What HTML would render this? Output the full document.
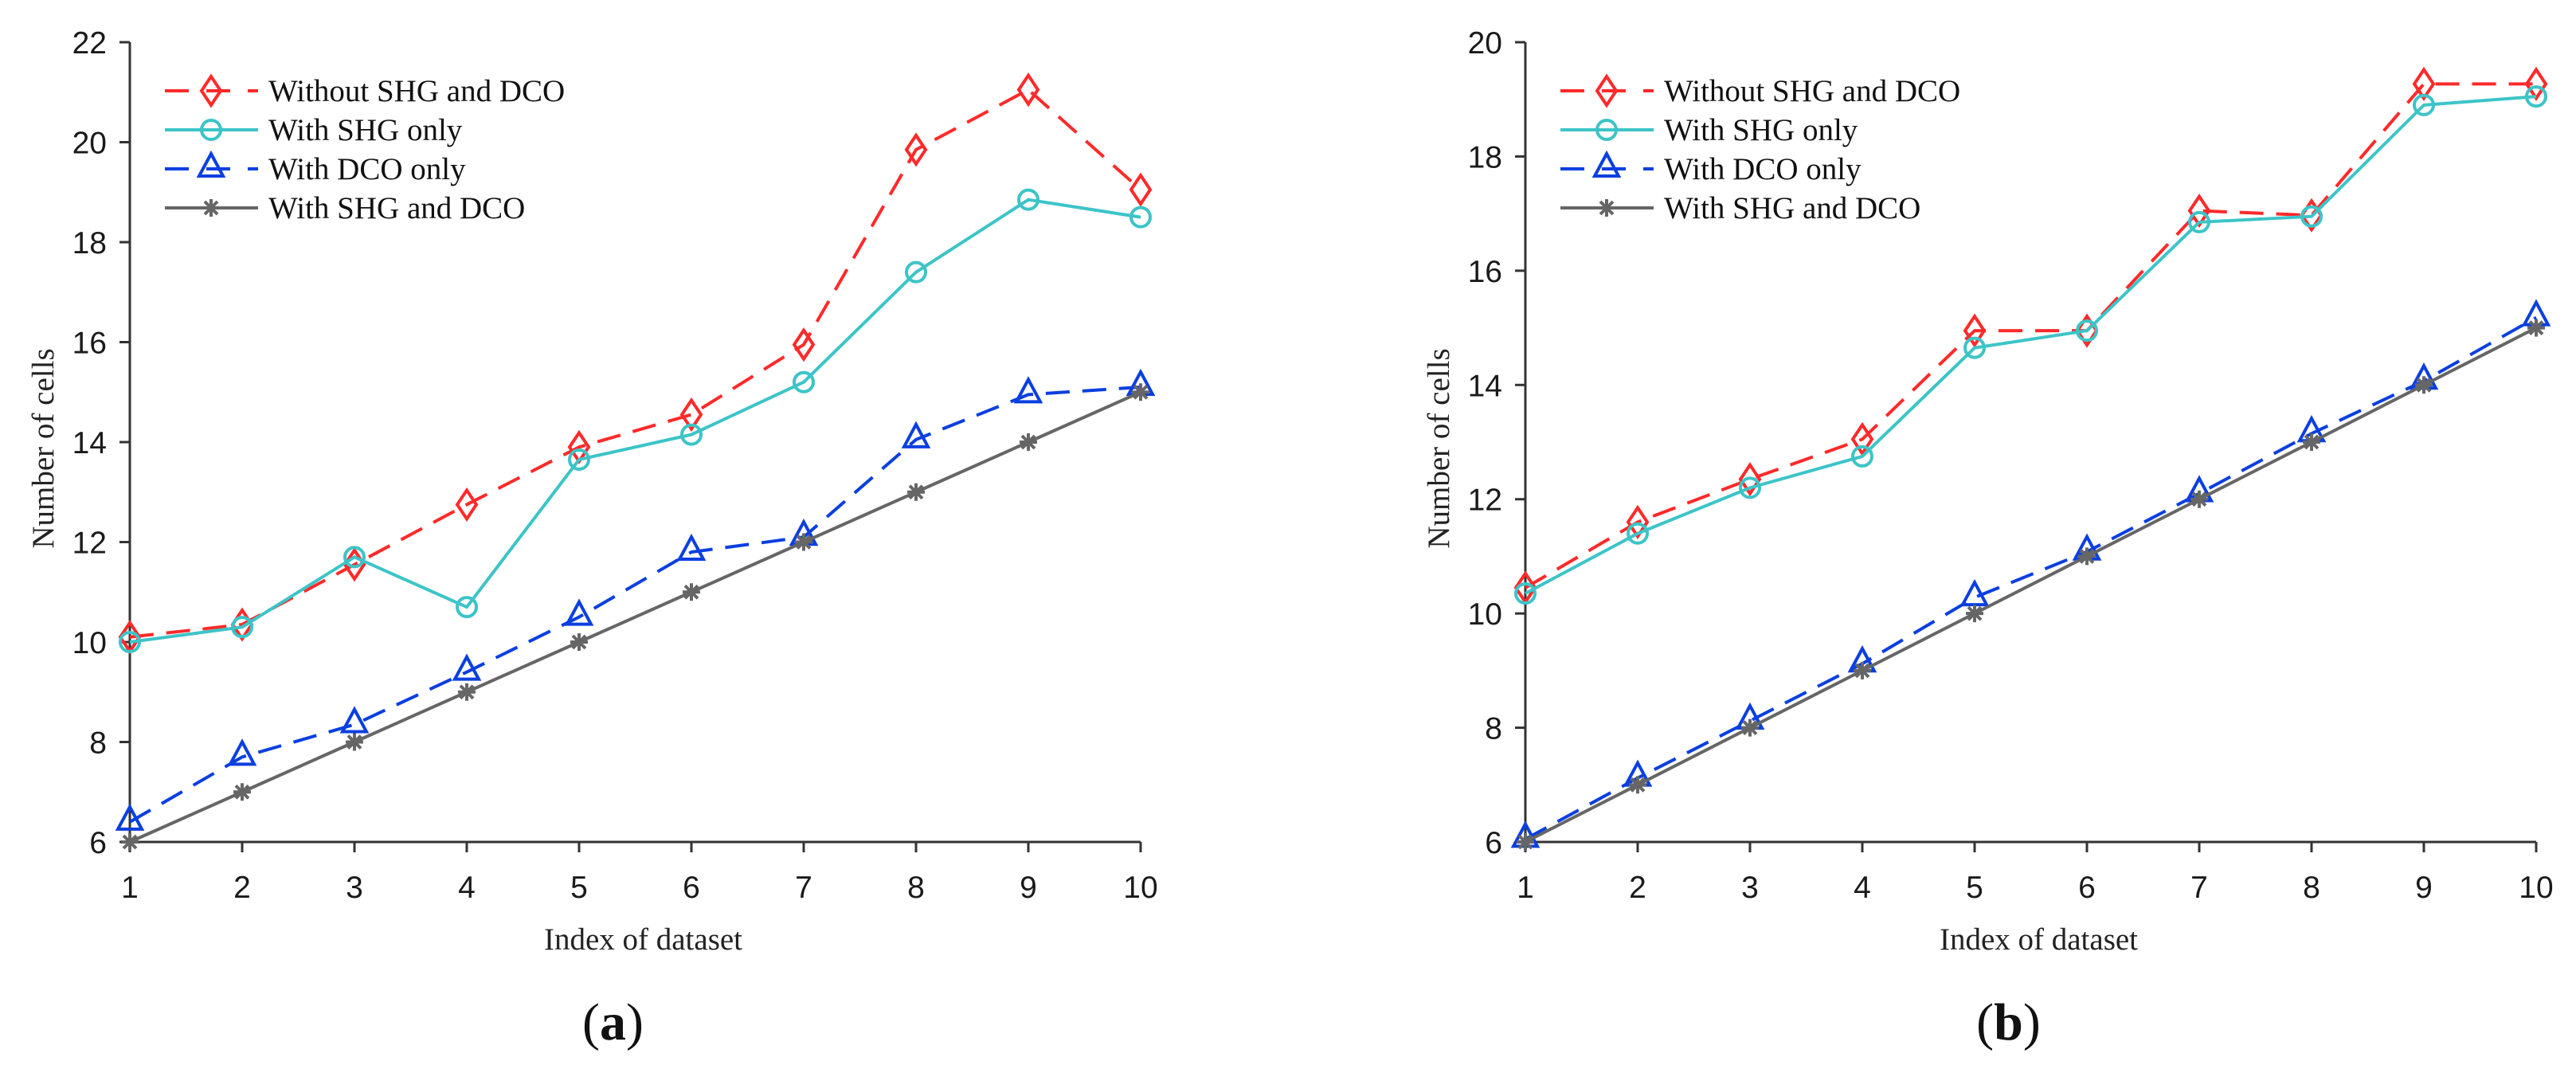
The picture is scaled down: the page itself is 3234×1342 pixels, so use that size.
<!DOCTYPE html>
<html><head><meta charset="utf-8"><style>
html,body{margin:0;padding:0;background:#fff;}
svg{display:block;}
</style></head><body>
<svg id="fig" width="3234" height="1342" viewBox="0 0 3234 1342" xmlns="http://www.w3.org/2000/svg"></svg>
<script>
const xCategories = [1,2,3,4,5,6,7,8,9,10];
const seriesNames = ["Without SHG and DCO","With SHG only","With DCO only","With SHG and DCO"];
const aWithout = [10.1,10.35,11.55,12.75,13.9,14.55,15.95,19.85,21.05,19.05];
const aShg = [10.0,10.3,11.7,10.7,13.65,14.15,15.2,17.4,18.85,18.5];
const aDco = [6.4,7.7,8.35,9.4,10.5,11.8,12.1,14.05,14.95,15.1];
const aBoth = [6,7,8,9,10,11,12,13,14,15];
const bWithout = [10.45,11.6,12.35,13.05,14.95,14.95,17.05,16.97,19.27,19.27];
const bShg = [10.35,11.4,12.2,12.75,14.65,14.95,16.85,16.95,18.9,19.05];
const bDco = [6.05,7.12,8.12,9.12,10.28,11.08,12.1,13.15,14.07,15.18];
const bBoth = [6,7,8,9,10,11,12,13,14,15];
const aYTicks = [6,8,10,12,14,16,18,20,22];
const bYTicks = [6,8,10,12,14,16,18,20];

const NS="http://www.w3.org/2000/svg";
const svg=document.getElementById('fig');
function mk(tag,attrs,parent){const e=document.createElementNS(NS,tag);for(const k in attrs)e.setAttribute(k,attrs[k]);(parent||svg).appendChild(e);return e;}
const styles=[
 {color:"#ff2a2a",dash:"30 16",marker:"diamond"},
 {color:"#3cc4c8",dash:"",marker:"circle"},
 {color:"#0a3fe0",dash:"30 16",marker:"triangle"},
 {color:"#666666",dash:"",marker:"star"}
];
function marker(g,type,x,y,color){
 let m;
 if(type==="diamond"){m=mk('polygon',{points:`${x},${y-18} ${x+12},${y} ${x},${y+18} ${x-12},${y}`,fill:"none",stroke:color,"stroke-width":4},g);}
 else if(type==="circle"){m=mk('circle',{cx:x,cy:y,r:12,fill:"none",stroke:color,"stroke-width":4},g);}
 else if(type==="triangle"){m=mk('polygon',{points:`${x},${y-19} ${x+15},${y+9} ${x-15},${y+9}`,fill:"none",stroke:color,"stroke-width":4},g);}
 else {m=mk('path',{d:`M${x-11},${y}H${x+11}M${x},${y-11}V${y+11}M${x-8},${y-8}L${x+8},${y+8}M${x-8},${y+8}L${x+8},${y-8}`,stroke:color,"stroke-width":4,fill:"none"},g);}
 
 
}
function chart(id,x0,x1,y0,y1,ymin,ymax,yTicks,series,label){
 const g=mk('g',{});
 
 
 const sx=v=>x0+(v-1)/9*(x1-x0);
 const sy=v=>y0-(v-ymin)/(ymax-ymin)*(y0-y1);
 const ax=mk('path',{d:`M${x0},${y1}V${y0}H${x1}`,stroke:"#333",fill:"none","stroke-width":3},g);
 
 
 yTicks.forEach(t=>{
  const yy=sy(t);
  mk('line',{x1:x0-13,x2:x0,y1:yy,y2:yy,stroke:"#333","stroke-width":3},g);
  const tx=mk('text',{x:x0-29,y:yy+14,"text-anchor":"end","font-family":"Liberation Sans, sans-serif","font-size":39,fill:"#1a1a1a"},g);
  tx.textContent=t;
  
  
 });
 xCategories.forEach(c=>{
  const xx=sx(c);
  mk('line',{x1:xx,x2:xx,y1:y0,y2:y0+13,stroke:"#333","stroke-width":3},g);
  const tx=mk('text',{x:xx,y:y0+70,"text-anchor":"middle","font-family":"Liberation Sans, sans-serif","font-size":39,fill:"#1a1a1a"},g);
  tx.textContent=c;
  
  
 });
 const yl=mk('text',{x:0,y:0,transform:`translate(${x0-96},${(y0+y1)/2+8}) rotate(-90)`,"text-anchor":"middle","font-family":"Liberation Serif, serif","font-size":39,fill:"#222"},g);
 yl.textContent="Number of cells";
 
 
 const xl=mk('text',{x:(x0+x1)/2+10,y:1192,"text-anchor":"middle","font-family":"Liberation Serif, serif","font-size":39,fill:"#222"},g);
 xl.textContent="Index of dataset";
 
 
 series.forEach((vals,i)=>{
  const st=styles[i];
  const pts=vals.map((v,j)=>`${sx(xCategories[j])},${sy(v)}`).join(' ');
  const pl=mk('polyline',{points:pts,fill:"none",stroke:st.color,"stroke-width":4,"stroke-dasharray":st.dash},g);
  
  
  vals.forEach((v,j)=>marker(g,st.marker,sx(xCategories[j]),sy(v),st.color));
 });
 seriesNames.forEach((n,i)=>{
  const st=styles[i];const ly=114+i*49;const lx=x0+44;
  const le=mk('g',{},g);
  
  
  mk('line',{x1:lx,x2:lx+117,y1:ly,y2:ly,stroke:st.color,"stroke-width":4,"stroke-dasharray":st.dash?"30 22":""},le);
  marker(le,st.marker,lx+58,ly,st.color);
  const t=mk('text',{x:lx+130,y:ly+13,"font-family":"Liberation Serif, serif","font-size":39,fill:"#111"},le);
  t.textContent=n;
 });
 const cap=mk('text',{x:(x0+x1)/2-28,y:1305,"text-anchor":"middle","font-family":"Liberation Serif, serif","font-size":66,fill:"#111"},g);
 cap.innerHTML=`(<tspan font-weight="bold">${label}</tspan>)`;
 
 
}
chart('a',163,1432,1057,53,6,22,aYTicks,[aWithout,aShg,aDco,aBoth],'a');
chart('b',1915,3184,1057,53,6,20,bYTicks,[bWithout,bShg,bDco,bBoth],'b');
</script>
</body></html>
